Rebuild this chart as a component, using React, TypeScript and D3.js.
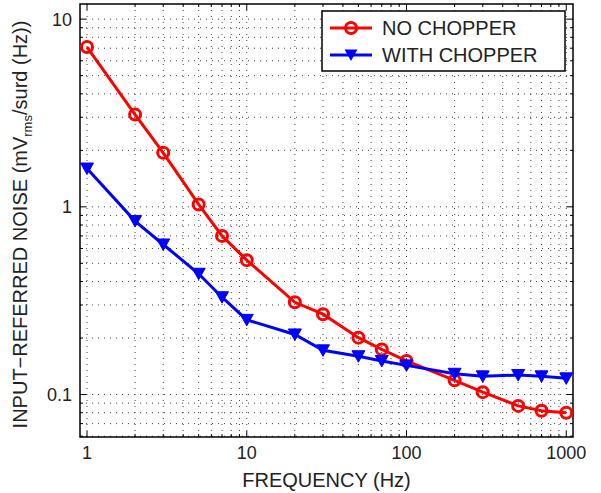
import React, { useEffect, useRef } from 'react'
import * as d3 from 'd3'

const freqs = [1, 2, 3, 5, 7, 10, 20, 30, 50, 70, 100, 200, 300, 500, 700, 1000]
const noChopper = [7.1, 3.1, 1.94, 1.03, 0.7, 0.52, 0.31, 0.268, 0.201, 0.174, 0.151, 0.119, 0.103, 0.087, 0.082, 0.08]
const withChopper = [1.6, 0.84, 0.63, 0.44, 0.33, 0.25, 0.209, 0.172, 0.16, 0.151, 0.143, 0.129, 0.125, 0.127, 0.125, 0.122]
const xTicks = [1, 10, 100, 1000]
const yTicks = [0.1, 1, 10]
const seriesNames = ['NO CHOPPER', 'WITH CHOPPER']

const font = 'Liberation Sans, Arial, Helvetica, sans-serif'

export default function App() {
  const ref = useRef<SVGSVGElement>(null)

  useEffect(() => {
    const svg = d3.select(ref.current)
    svg.selectAll('*').remove()
    const marge = { left: 80, top: 4, right: 28, bottom: 56 }
    const width = 601, height = 493
    const w = width - marge.left - marge.right
    const h = height - marge.top - marge.bottom

    const x = d3.scaleLog().domain([0.904, 1102]).range([0, w])
    const y = d3.scaleLog().domain([0.0594, 12.04]).range([h, 0])

    const g = svg.append('g').attr('transform', `translate(${marge.left},${marge.top})`)

    // minor + major positions
    const xMinor: number[] = []
    for (let d = 1; d <= 1000; d *= 10) for (let k = 1; k <= 9; k++) if (d * k <= 1100 && d * k >= 0.9) xMinor.push(d * k)
    const yMinor: number[] = []
    for (let d = 0.01; d <= 10; d *= 10) for (let k = 1; k <= 9; k++) {
      const v = +(d * k).toPrecision(3)
      if (v >= 0.0594 && v <= 12.04) yMinor.push(v)
    }

    // grid
    g.selectAll('.gx').data(xMinor).enter().append('line')
      .attr('x1', d => x(d)).attr('x2', d => x(d))
      .attr('y1', 0).attr('y2', h)
      .attr('stroke', '#444').attr('stroke-width', 1).attr('stroke-dasharray', '1,5')
    g.selectAll('.gy').data(yMinor).enter().append('line')
      .attr('y1', d => y(d)).attr('y2', d => y(d))
      .attr('x1', 0).attr('x2', w)
      .attr('stroke', '#444').attr('stroke-width', 1).attr('stroke-dasharray', '1,5')

    // ticks inside on all sides
    const isMajor = (v: number) => Math.abs(Math.log10(v) - Math.round(Math.log10(v))) < 1e-6
    xMinor.forEach(v => {
      const len = isMajor(v) ? 6 : 3
      g.append('line').attr('x1', x(v)).attr('x2', x(v)).attr('y1', h).attr('y2', h - len).attr('stroke', '#000')
      g.append('line').attr('x1', x(v)).attr('x2', x(v)).attr('y1', 0).attr('y2', len).attr('stroke', '#000')
    })
    yMinor.forEach(v => {
      const len = isMajor(v) ? 6 : 3
      g.append('line').attr('y1', y(v)).attr('y2', y(v)).attr('x1', 0).attr('x2', len).attr('stroke', '#000')
      g.append('line').attr('y1', y(v)).attr('y2', y(v)).attr('x1', w).attr('x2', w - len).attr('stroke', '#000')
    })

    g.append('rect').attr('width', w).attr('height', h)
      .attr('fill', 'none').attr('stroke', '#000').attr('stroke-width', 1.5)

    // tick labels
    g.selectAll('.xl').data(xTicks).enter().append('text')
      .attr('x', d => x(d)).attr('y', h + 22)
      .attr('text-anchor', 'middle').attr('font-family', font).attr('font-size', 18).attr('fill', '#222')
      .text(d => d)
    g.selectAll('.yl').data(yTicks).enter().append('text')
      .attr('x', -8).attr('y', d => y(d)).attr('dy', '0.36em')
      .attr('text-anchor', 'end').attr('font-family', font).attr('font-size', 18).attr('fill', '#222')
      .text(d => d)

    // axis titles
    g.append('text').attr('x', w / 2).attr('y', h + 50)
      .attr('text-anchor', 'middle').attr('font-family', font).attr('font-size', 20).attr('fill', '#222')
      .text('FREQUENCY (Hz)')
    const yt = svg.append('text')
      .attr('transform', `translate(27,${marge.top + h / 2 + 4}) rotate(-90)`)
      .attr('text-anchor', 'middle').attr('font-family', font).attr('font-size', 20).attr('fill', '#222')
    yt.append('tspan').text('INPUT\u2212REFERRED NOISE (mV')
    yt.append('tspan').attr('font-size', 13).attr('dy', 5).text('rms')
    yt.append('tspan').attr('dy', -5).text('/surd (Hz))')

    const line = d3.line<number>().x((d, i) => x(freqs[i])).y(d => y(d))
    const tri = 'M-6.5,-5.5L6.5,-5.5L0,6Z'

    g.append('path').datum(noChopper).attr('d', line)
      .attr('fill', 'none').attr('stroke', '#ff0000').attr('stroke-width', 3)
    g.selectAll('.c').data(noChopper).enter().append('circle')
      .attr('cx', (d, i) => x(freqs[i])).attr('cy', d => y(d)).attr('r', 5.5)
      .attr('fill', 'none').attr('stroke', '#ff0000').attr('stroke-width', 3)

    g.append('path').datum(withChopper).attr('d', line)
      .attr('fill', 'none').attr('stroke', '#0000ff').attr('stroke-width', 3)
    g.selectAll('.t').data(withChopper).enter().append('path')
      .attr('transform', (d, i) => `translate(${x(freqs[i])},${y(d)})`)
      .attr('d', tri).attr('fill', '#0000ff').attr('stroke', '#0000ff').attr('stroke-width', 1)

    // legend
    const lg = svg.append('g').attr('transform', 'translate(322,11)')
    lg.append('rect').attr('width', 243).attr('height', 60)
      .attr('fill', '#fff').attr('stroke', '#000').attr('stroke-width', 1.5)
    const colors = ['#ff0000', '#0000ff']
    seriesNames.forEach((name, i) => {
      const cy = 17 + i * 27
      lg.append('line').attr('x1', 8).attr('x2', 50).attr('y1', cy).attr('y2', cy)
        .attr('stroke', colors[i]).attr('stroke-width', 3)
      if (i === 0) {
        lg.append('circle').attr('cx', 29).attr('cy', cy).attr('r', 5.5)
          .attr('fill', 'none').attr('stroke', colors[i]).attr('stroke-width', 3)
      } else {
        lg.append('path').attr('transform', `translate(29,${cy})`).attr('d', tri).attr('fill', colors[i])
      }
      lg.append('text').attr('x', 60).attr('y', cy).attr('dy', '0.36em')
        .attr('font-family', font).attr('font-size', 20).attr('fill', '#222').text(name)
    })
  }, [])

  return (
    <svg ref={ref} width={601} height={493}
      style={{ position: 'absolute', left: 0, top: 0, background: '#fff' }} />
  )
}
